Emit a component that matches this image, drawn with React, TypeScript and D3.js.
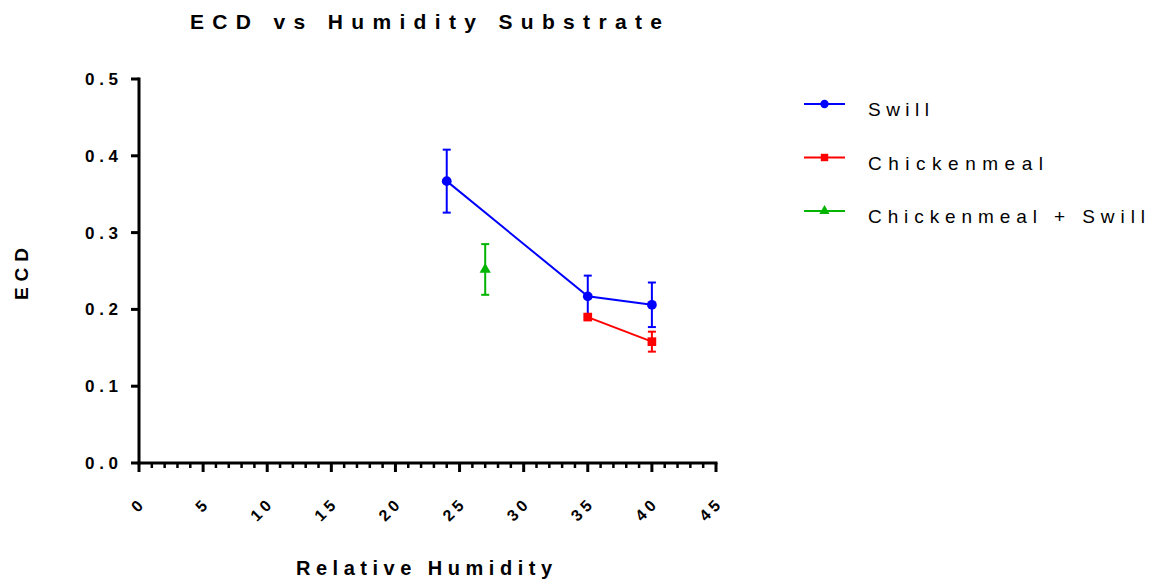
import React, { useEffect, useRef } from "react";
import * as d3 from "d3";

const seriesNames = ["Swill", "Chickenmeal", "Chickenmeal + Swill"];
const seriesColors = ["#0000ff", "#ff0000", "#00b400"];
const swillX = [24, 35, 40];
const swillY = [0.367, 0.217, 0.206];
const swillErr = [0.041, 0.027, 0.029];
const chickenX = [35, 40];
const chickenY = [0.19, 0.158];
const chickenErr = [0.003, 0.013];
const mixX = [27];
const mixY = [0.252];
const mixErr = [0.033];
const xTicks = [0, 5, 10, 15, 20, 25, 30, 35, 40, 45];
const yTicks = [0, 0.1, 0.2, 0.3, 0.4, 0.5];

export default function App() {
  const ref = useRef<SVGSVGElement>(null);
  useEffect(() => {
    const svg = d3.select(ref.current);
    svg.selectAll("*").remove();
    const x = d3.scaleLinear().domain([0, 45]).range([139, 716]);
    const y = d3.scaleLinear().domain([0, 0.5]).range([463, 79]);
    const font = "'Liberation Sans', Arial, sans-serif";

    // title
    svg.append("text").attr("x", 190).attr("y", 29)
      .attr("font-family", font).attr("font-weight", "bold").attr("font-size", 21)
      .attr("textLength", 472).attr("lengthAdjust", "spacing").text("ECD vs Humidity Substrate");

    // y axis
    const g = svg.append("g");
    g.append("line").attr("x1", 139).attr("x2", 139).attr("y1", y(0.5) - 1.5).attr("y2", y(0) + 1.5)
      .attr("stroke", "#000").attr("stroke-width", 3);
    yTicks.forEach((t) => {
      g.append("line").attr("x1", 131).attr("x2", 139).attr("y1", y(t)).attr("y2", y(t))
        .attr("stroke", "#000").attr("stroke-width", 3);
      g.append("text").attr("x", 85).attr("y", y(t) + 6)
        .attr("font-family", font).attr("font-weight", "bold").attr("font-size", 17)
        .attr("textLength", 33).attr("lengthAdjust", "spacing").text(d3.format(".1f")(t));
    });

    // x axis
    g.append("line").attr("x1", 137.5).attr("x2", 717.5).attr("y1", 463).attr("y2", 463)
      .attr("stroke", "#000").attr("stroke-width", 3);
    d3.range(0, 46).forEach((v) => {
      const major = v % 5 === 0;
      g.append("line").attr("x1", x(v)).attr("x2", x(v)).attr("y1", 463).attr("y2", major ? 472 : 468)
        .attr("stroke", "#000").attr("stroke-width", major ? 3 : 2.5);
    });
    xTicks.forEach((t) => {
      g.append("text").attr("transform", `translate(${x(t) + 8},${504}) rotate(-45)`)
        .attr("text-anchor", "end")
        .attr("font-family", font).attr("font-weight", "bold").attr("font-size", 16)
        .attr("letter-spacing", 4).text(String(t));
    });

    // axis labels
    svg.append("text").attr("x", 296).attr("y", 575)
      .attr("font-family", font).attr("font-weight", "bold").attr("font-size", 20)
      .attr("textLength", 256).attr("lengthAdjust", "spacing").text("Relative Humidity");
    svg.append("text").attr("transform", `translate(28,300) rotate(-90)`)
      .attr("font-family", font).attr("font-weight", "bold").attr("font-size", 19)
      .attr("textLength", 52).attr("lengthAdjust", "spacing").text("ECD");

    const series = [
      { xs: swillX, ys: swillY, es: swillErr, shape: d3.symbolCircle },
      { xs: chickenX, ys: chickenY, es: chickenErr, shape: d3.symbolSquare },
      { xs: mixX, ys: mixY, es: mixErr, shape: d3.symbolTriangle },
    ];
    series.forEach((s, i) => {
      const c = seriesColors[i];
      const pts = s.xs.map((xv, j) => [xv, s.ys[j], s.es[j]]);
      const line = d3.line<number[]>().x((d) => x(d[0])).y((d) => y(d[1]));
      svg.append("path").attr("d", line(pts)).attr("fill", "none").attr("stroke", c).attr("stroke-width", 2);
      pts.forEach((p) => {
        const cx = x(p[0]);
        svg.append("line").attr("x1", cx).attr("x2", cx).attr("y1", y(p[1] + p[2])).attr("y2", y(p[1] - p[2]))
          .attr("stroke", c).attr("stroke-width", 2);
        [p[1] + p[2], p[1] - p[2]].forEach((e) => {
          svg.append("line").attr("x1", cx - 4).attr("x2", cx + 4).attr("y1", y(e)).attr("y2", y(e))
            .attr("stroke", c).attr("stroke-width", 2);
        });
        svg.append("path").attr("transform", `translate(${cx},${y(p[1])})`)
          .attr("d", d3.symbol().type(s.shape).size(i === 2 ? 55 : 75)()).attr("fill", c);
      });
    });

    // legend
    const legendLens = [61, 175, 277];
    series.forEach((s, i) => {
      const ly = 104 + i * 53.5;
      const c = seriesColors[i];
      svg.append("line").attr("x1", 804).attr("x2", 845).attr("y1", ly).attr("y2", ly)
        .attr("stroke", c).attr("stroke-width", 2);
      svg.append("path").attr("transform", `translate(824.5,${ly})`)
        .attr("d", d3.symbol().type(s.shape).size(i === 2 ? 45 : 55)()).attr("fill", c);
      svg.append("text").attr("x", 868).attr("y", ly + 12)
        .attr("font-family", font).attr("font-size", 19)
        .attr("textLength", legendLens[i]).attr("lengthAdjust", "spacing").text(seriesNames[i]);
    });
  }, []);
  return (
    <svg ref={ref} width={1155} height={581} style={{ position: "absolute", left: 0, top: 0, background: "#fff" }} />
  );
}
